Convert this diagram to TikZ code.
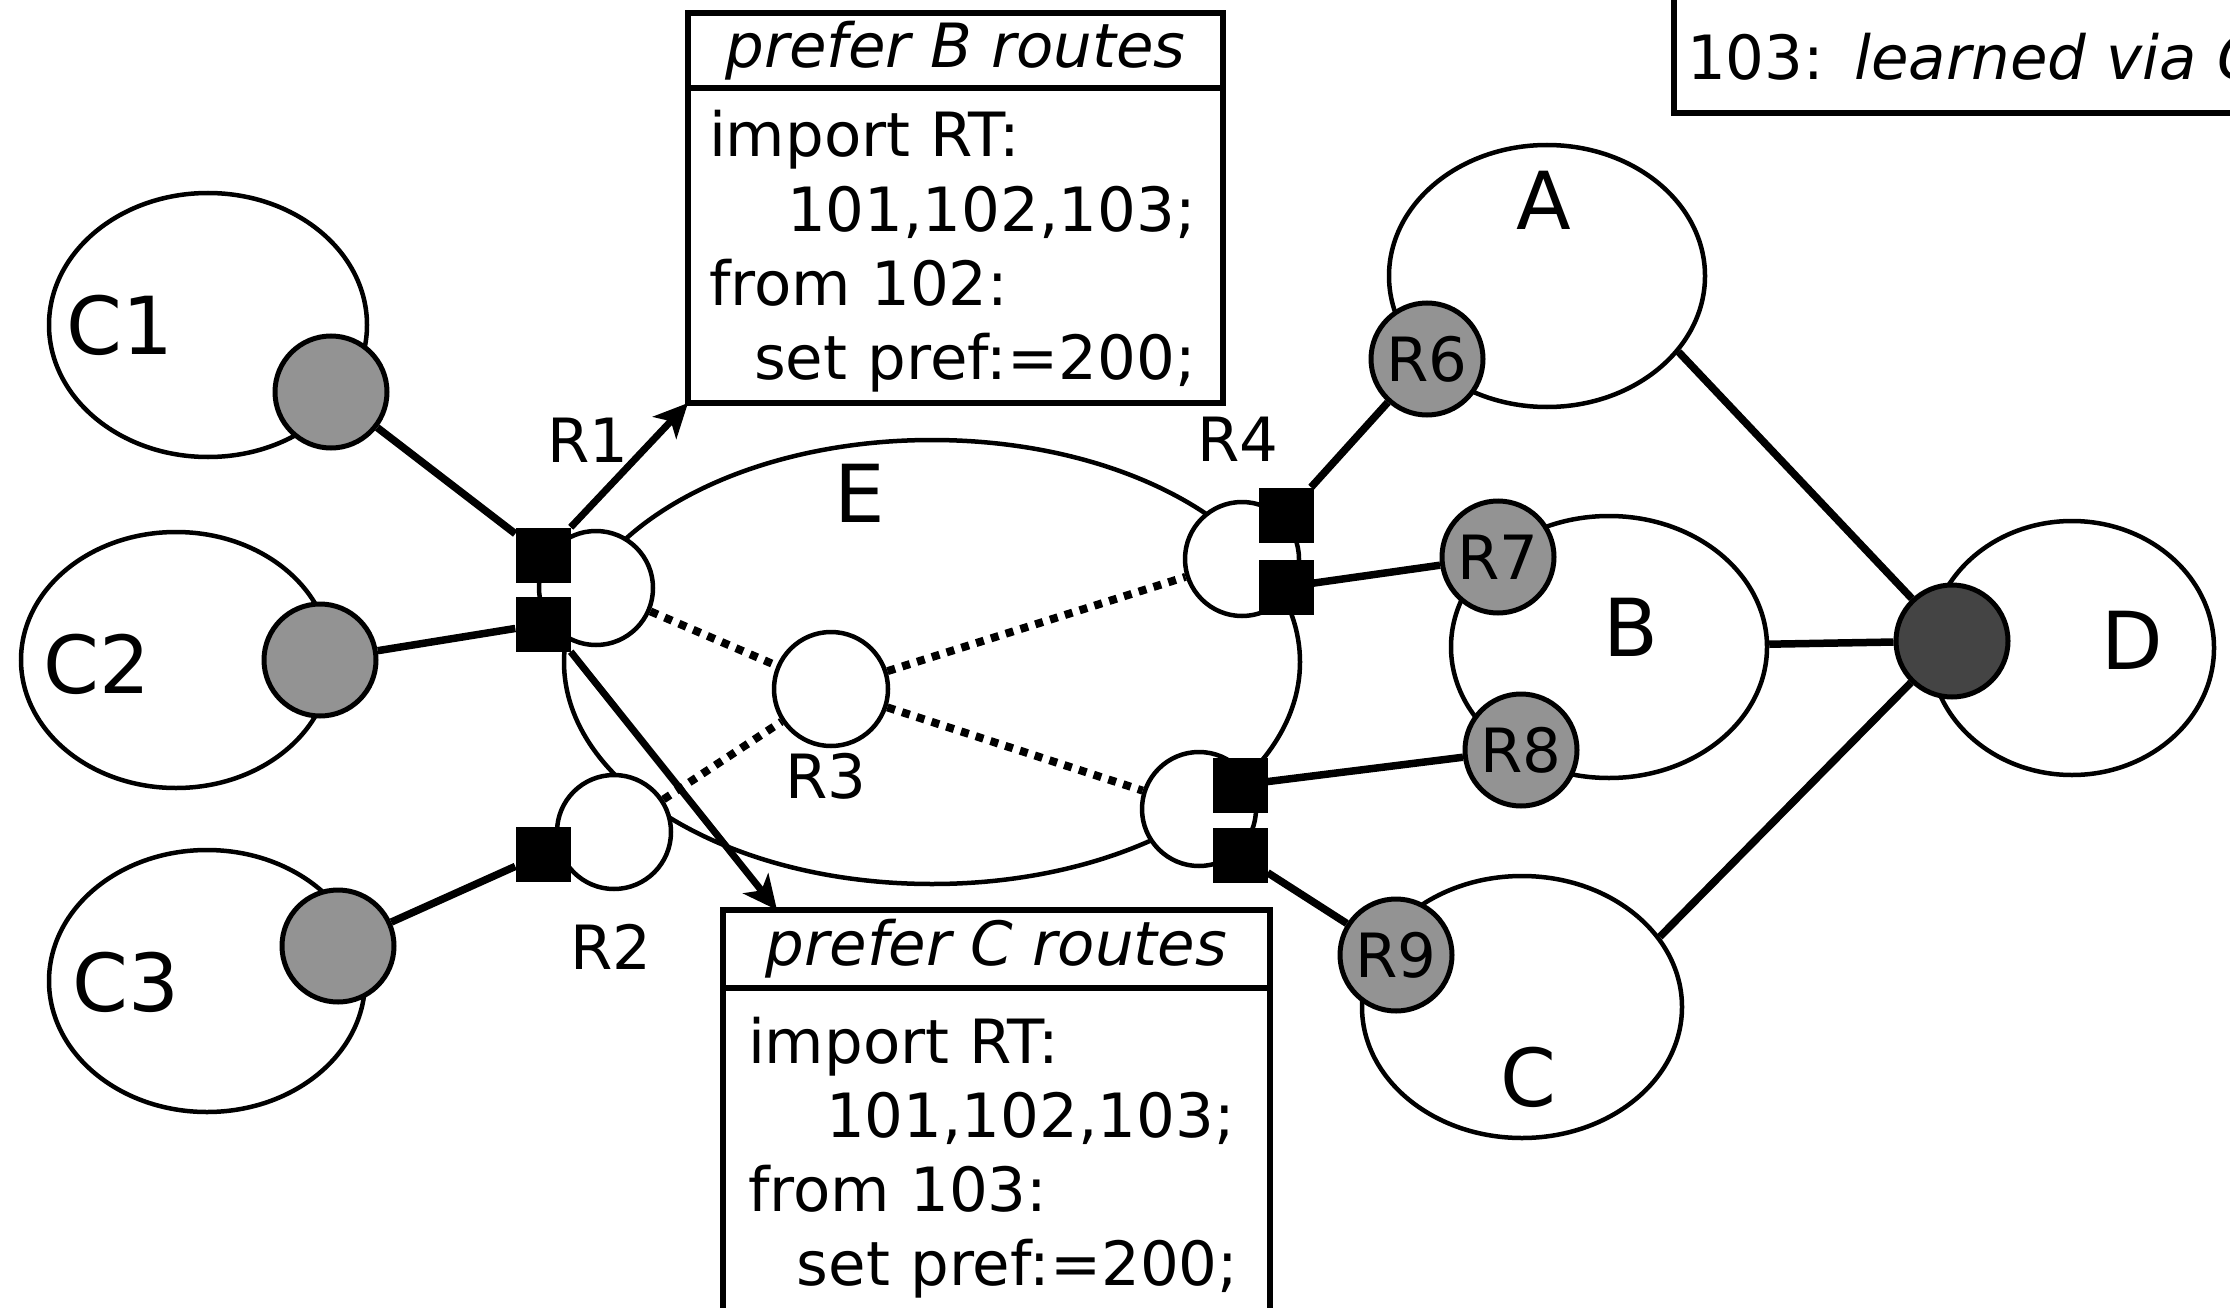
\documentclass[tikz,border=0pt]{standalone}
\usepackage{fontspec}
\setmainfont{DejaVu Sans}[ItalicFont={DejaVu Sans Oblique}]
\usetikzlibrary{shapes.geometric,positioning,arrows.meta}

\newcommand{\txtfont}{\fontsize{61}{74.3}\selectfont}
\newcommand{\sitefont}{\fontsize{80}{96}\selectfont}

\definecolor{gategray}{RGB}{147,147,147}
\definecolor{hubgray}{RGB}{68,68,68}

\tikzset{
    site/.style={ellipse, draw, line width=4.5pt, fill=white, inner sep=0pt},
    gate/.style={circle, draw, line width=5pt, fill=gategray, minimum size=112pt, inner sep=0pt, font=\txtfont},
    router/.style={circle, draw, line width=4.5pt, fill=white, minimum size=114pt, inner sep=0pt},
    port/.style={rectangle, fill=black, minimum size=55pt, inner sep=0pt},
    link/.style={line width=7.5pt},
    ibgp/.style={line width=8pt, dash pattern=on 8pt off 7.5pt},
    policy/.style={line width=7pt, -{Stealth[length=34pt, width=32pt, inset=9pt]}},
    polhead/.style={rectangle, draw, line width=5.5pt, outer sep=0pt, inner sep=0pt, font=\txtfont\itshape},
    polbody/.style={rectangle, draw, line width=5.5pt, outer sep=0pt, inner ysep=0pt, font=\txtfont, align=left},
    legend/.style={rectangle, draw, line width=5.5pt, outer sep=0pt, inner ysep=0pt, font=\txtfont, align=left}
}

\begin{document}
\begin{tikzpicture}[x=1pt, y=-1pt]
    \useasboundingbox (0,0) rectangle (2230,1308);
    \clip (0,0) rectangle (2230,1308);

    % Draw the sites and the provider network E
    \foreach \name/\x/\y/\w/\h in {C1/208/325/318/264, C2/176/660/310/256, C3/207/981/316/262,
        A/1547/276/316/262, B/1609/647/316/262, C/1522/1007/320/262, D/2072/648/284/254, E/932/662/736/444} {
        \node[site, minimum width=\w pt, minimum height=\h pt] (\name) at (\x,\y) {};
    }

    % Site names
    \foreach \name/\x/\y in {C1/120/325, C2/97/664, C3/126/982, A/1544/200, B/1631/627, C/1528/1077, D/2132/640, E/860/493} {
        \node[font=\sitefont] (l\name) at (\x,\y) {\name};
    }

    % Draw the routers of E and their interfaces
    \foreach \name/\x/\y in {R1/596/588, R2/614/832, R3/831/689, R4/1242/559, R5/1199/809} {
        \node[router] (\name) at (\x,\y) {};
    }
    \foreach \name/\x/\y in {R1a/543/555, R1b/543/624, R2a/543/854, R4a/1286/515, R4b/1286/587, R5a/1240/785, R5b/1240/855} {
        \node[port] (\name) at (\x,\y) {};
    }
    \foreach \name/\x/\y in {R1/588/440, R2/611/947, R3/826/776, R4/1238/439} {
        \node[font=\txtfont] (l\name) at (\x,\y) {\name};
    }

    % Draw the border routers of the sites
    \foreach \name/\x/\y in {C1g/331/392, C2g/320/660, C3g/338/946} {
        \node[gate] (\name) at (\x,\y) {};
    }
    \foreach \name/\x/\y in {R6/1427/359, R7/1498/557, R8/1521/750, R9/1396/955} {
        \node[gate] (\name) at (\x,\y) {\name};
    }
    \node[gate, fill=hubgray] (Dg) at (1952,641) {};

    % Draw the import policies
    \node[polhead, minimum width=535pt, minimum height=75pt] (headB) at (955.5,50.5) {prefer B routes};
    \node[polbody, below=0pt of headB, inner xsep=21pt, text width=493pt, text height=69pt, text depth=246pt] (bodyB)
        {import RT:\\\hspace*{1.28em}101,102,103;\\from 102:\\\hspace*{0.74em}set pref:=200;};
    \node[polhead, minimum width=547pt, minimum height=78pt] (headC) at (996.5,949) {prefer C routes};
    \node[polbody, below=0pt of headC, inner xsep=25pt, text width=497pt, text height=75pt, text depth=267pt] (bodyC)
        {import RT:\\\hspace*{1.28em}101,102,103;\\from 103:\\\hspace*{0.8em}set pref:=200;};
    \node[legend, anchor=south west, inner xsep=13pt, text width=600pt, text height=150pt, text depth=33pt] (legend)
        at (1674,113) {103: \textit{learned via C}};

    % Draw the links
    \foreach \a/\b in {C1g/R1a, C2g/R1b, C3g/R2a, R4a/R6, R4b/R7, R5a/R8, R5b/R9, B/Dg} {
        \draw[link] (\a) -- (\b);
    }
    \draw[link] (A.-30) -- (Dg);
    \draw[link] (C.27) -- (Dg);

    % Draw the iBGP sessions
    \foreach \a/\b in {R1/R3, R2/R3, R3/R4, R3/R5} {
        \draw[ibgp] (\a) -- (\b);
    }

    % Draw the arrows to the policies
    \draw[policy] (R1a.north east) -- (bodyB.south west);
    \draw[policy] (R1b.south east) -- ([xshift=54pt]headC.north west);
\end{tikzpicture}
\end{document}
